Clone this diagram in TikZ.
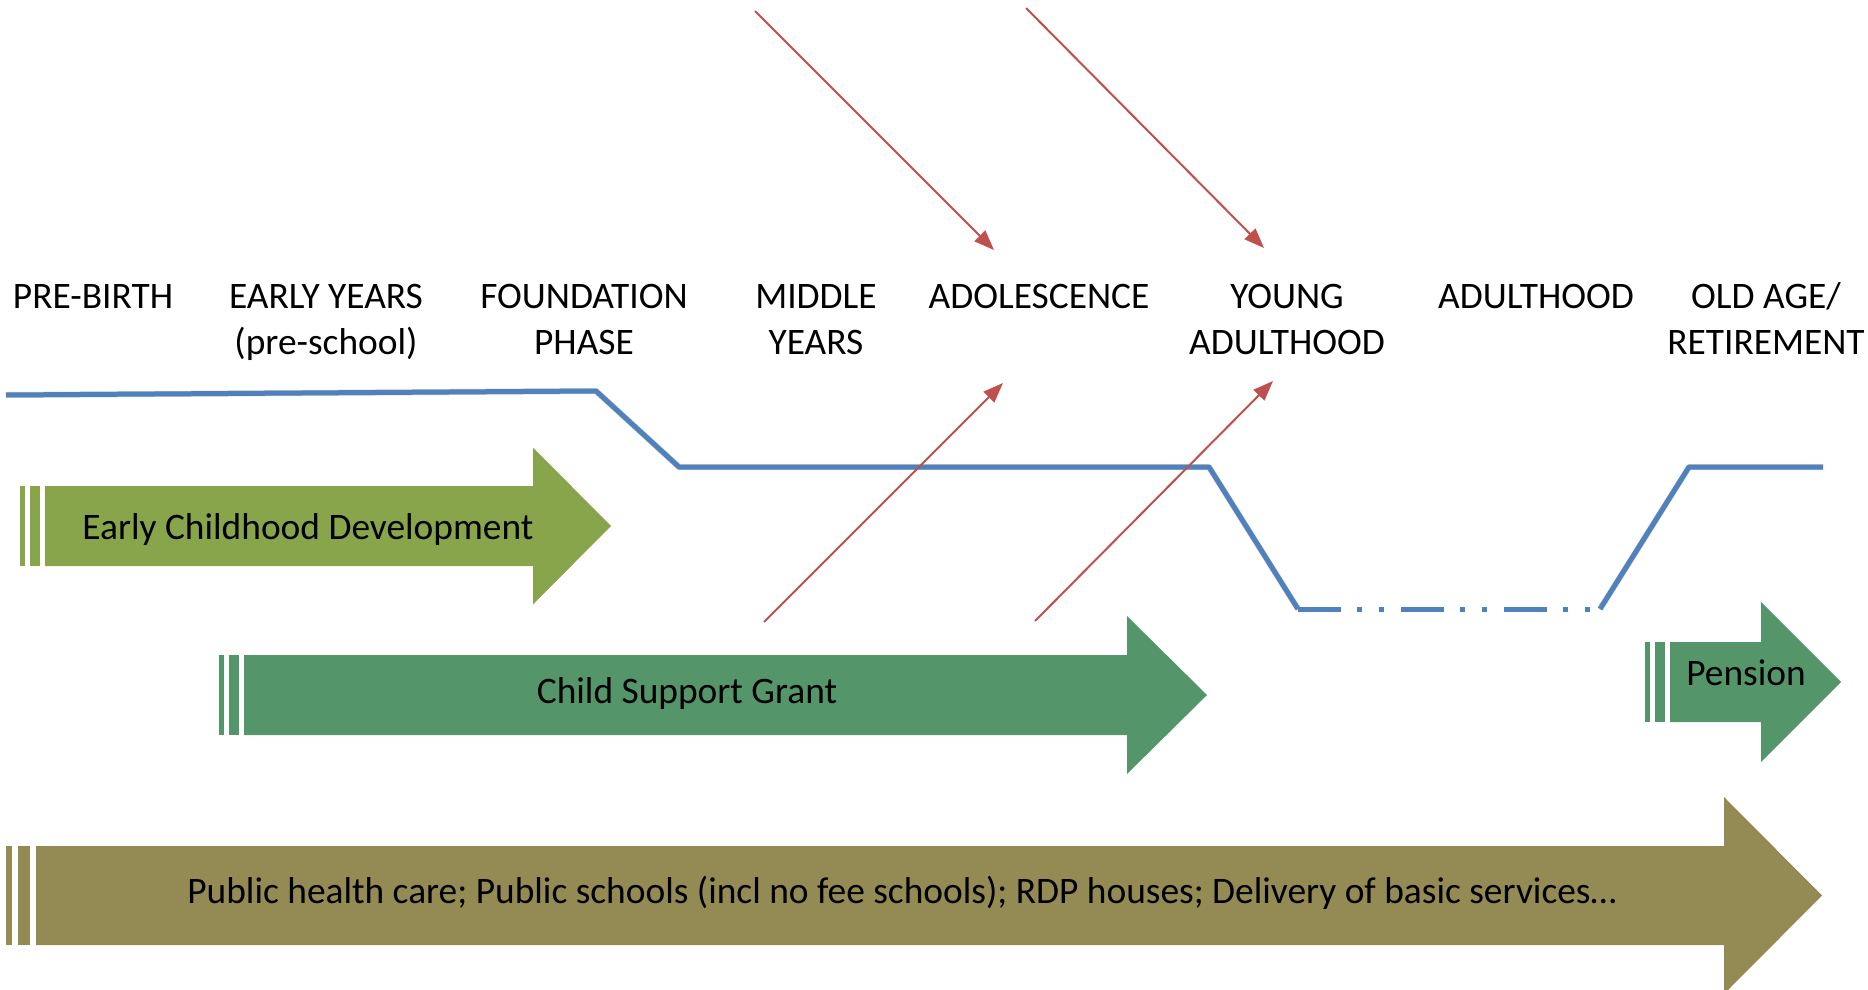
\documentclass[tikz,border=0pt]{standalone}
\usepackage{fontspec}
\setmainfont{Carlito}
\usetikzlibrary{arrows.meta}

\definecolor{lineblue}{RGB}{79,129,189}
\definecolor{arrowred}{RGB}{192,80,77}
\definecolor{ecdgreen}{RGB}{137,165,75}
\definecolor{csggreen}{RGB}{84,150,106}
\definecolor{olivebar}{RGB}{148,138,84}

% Striped block arrow:
% #1 colour, #2 left edge, #3 stripe unit, #4 head base x, #5 tip x,
% #6 centre y, #7 half body height, #8 half head height
\newcommand{\bandarrow}[8]{%
  \fill[#1] (#2,{#6-#7}) rectangle ({#2+#3},{#6+#7});
  \fill[#1] ({#2+2*#3},{#6-#7}) rectangle ({#2+4*#3},{#6+#7});
  \fill[#1] ({#2+5*#3},{#6-#7}) -- (#4,{#6-#7}) -- (#4,{#6-#8}) -- (#5,#6)
     -- (#4,{#6+#8}) -- (#4,{#6+#7}) -- ({#2+5*#3},{#6+#7}) -- cycle;
}

\begin{document}
\begin{tikzpicture}[x=1pt,y=-1pt,
  stage/.style={align=center, anchor=base, inner sep=0pt,
    font=\fontsize{37.4}{46}\selectfont},
  bandtext/.style={inner sep=0pt, font=\fontsize{37.4}{44}\selectfont},
  pointer/.style={arrowred, line width=2pt,
    -{Triangle[length=20pt,width=15pt]}},
  lifeline/.style={lineblue, line width=5pt, line join=round},
  lifeshadow/.style={black, opacity=0.18, line width=6pt, line join=round},
]
\useasboundingbox (0,0) rectangle (1868,990);

% life stages (two-line labels sit on the baseline of their second line)
\node[stage] (prebirth)   at (93,308)   {PRE-BIRTH};
\node[stage] (early)      at (326,354)  {EARLY YEARS\\(pre-school)};
\node[stage] (foundation) at (584,354)  {FOUNDATION\\PHASE};
\node[stage] (middle)     at (816,354)  {MIDDLE\\YEARS};
\node[stage] (adolesc)    at (1039,308) {ADOLESCENCE};
\node[stage] (young)      at (1287,354) {YOUNG\\ADULTHOOD};
\node[stage] (adult)      at (1536,308) {ADULTHOOD};
\node[stage] (oldage)     at (1766,354) {OLD AGE/\\RETIREMENT};

% level of support line
\coordinate (l0) at (6,395);
\coordinate (l1) at (596,391);
\coordinate (l2) at (679,467);
\coordinate (l3) at (1209,467);
\coordinate (l4) at (1298,609);
\coordinate (l5) at (1600,609);
\coordinate (l6) at (1689,467);
\coordinate (l7) at (1823,467);

\begin{scope}[shift={(2,3)}]
  \draw[lifeshadow] (l0) -- (l1) -- (l2) -- (l3) -- (l4);
  \draw[lifeshadow] (l5) -- (l6) -- (l7);
\end{scope}
\draw[lifeline] (l0) -- (l1) -- (l2) -- (l3) -- (l4);
\draw[lineblue, line width=5pt,
  dash pattern=on 43pt off 16pt on 5pt off 17pt on 5pt off 17pt] (l4) -- (l5);
\draw[lifeline] (l5) -- (l6) -- (l7);

% programme arrows
\bandarrow{ecdgreen}{20}{5}{533}{611}{526}{40}{78.5}
\bandarrow{csggreen}{219}{5}{1127}{1207}{695}{40}{79}
\bandarrow{csggreen}{1645}{5}{1761}{1841}{682}{40}{80}
\bandarrow{olivebar}{6}{6}{1724}{1822}{895.5}{49.5}{98.5}

\node[bandtext] (ecd)     at (308,530) {Early Childhood Development};
\node[bandtext] (csg)     at (687,694) {Child Support Grant};
\node[bandtext] (pension) at (1746,673) {Pension};
\node[bandtext] (basic)   at (902,893)
  {Public health care; Public schools (incl no fee schools); RDP houses; Delivery of basic services…};

% transition pointers
\coordinate (p1s) at (755,11);   \coordinate (p1e) at (994,250);
\coordinate (p2s) at (1026,8);   \coordinate (p2e) at (1264,248);
\coordinate (p3s) at (764,622);  \coordinate (p3e) at (1003,383);
\coordinate (p4s) at (1035,621); \coordinate (p4e) at (1273,381);
\draw[pointer] (p1s) -- (p1e);
\draw[pointer] (p2s) -- (p2e);
\draw[pointer] (p3s) -- (p3e);
\draw[pointer] (p4s) -- (p4e);
\end{tikzpicture}
\end{document}
